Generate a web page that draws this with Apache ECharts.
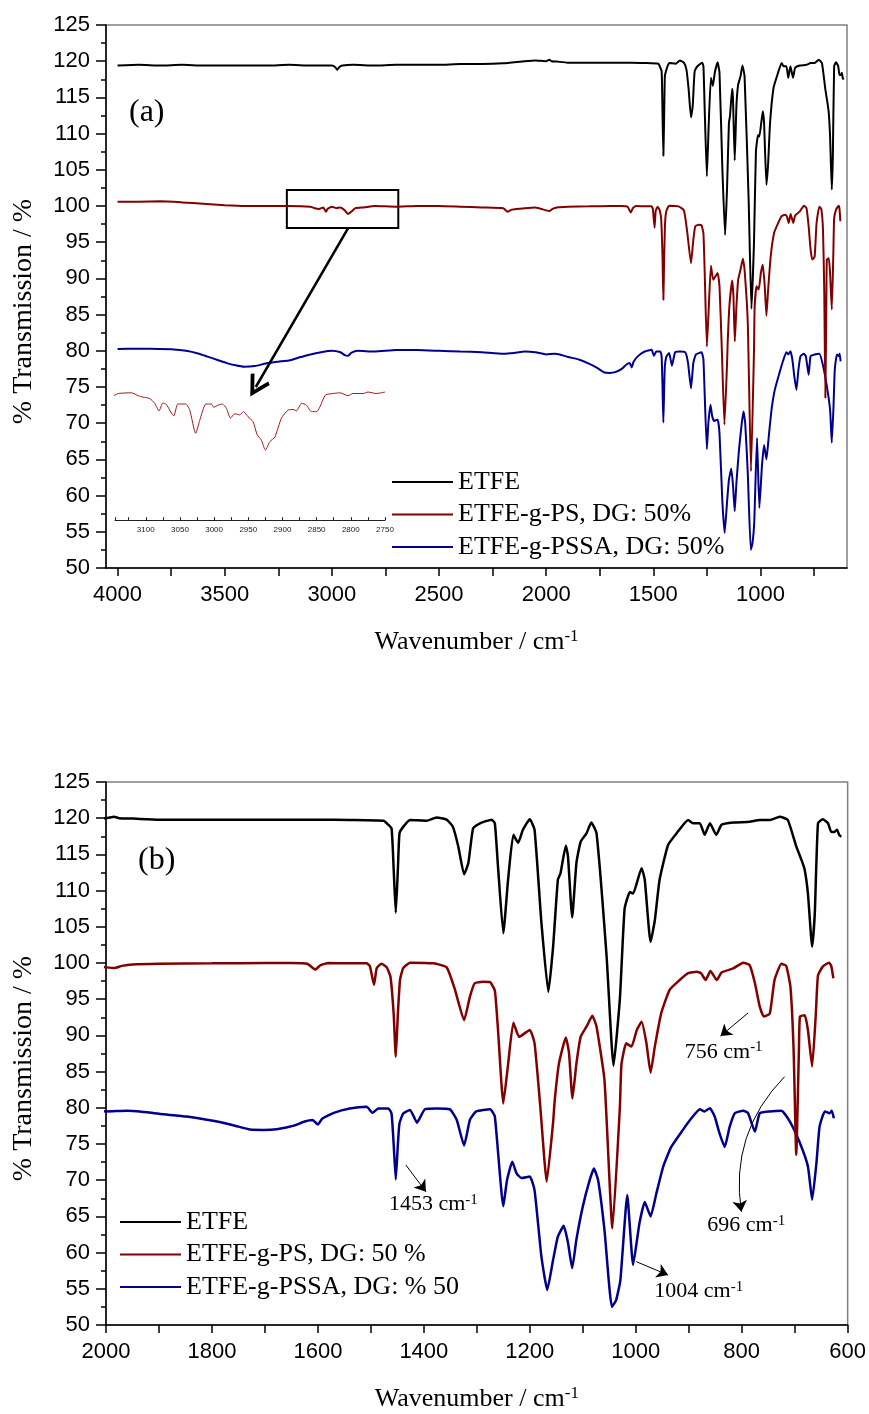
<!DOCTYPE html>
<html>
<head>
<meta charset="utf-8">
<script src="https://cdn.jsdelivr.net/npm/echarts@6/dist/echarts.min.js"></script>
<style>
  html, body { margin: 0; padding: 0; background: #fff; }
  #chart { width: 869px; height: 1414px; }
</style>
</head>
<body>
<div id="chart"></div>
<script>
// FTIR spectra: wavenumber (cm-1) and transmission (%) for each film
const etfeWn = [4000,3900,3800,3700,3600,3500,3400,3300,3200,3100,3000,2985,2975,2965,2950,2900,2800,2700,2600,2500,2400,2300,2200,2100,2050,2000,1985,1975,1950,1900,1800,1700,1600,1540,1476,1470,1461,1457,1453,1449,1446,1439,1426,1395,1376,1357,1345,1335,1324,1316,1307,1294,1272,1266,1260,1250,1241,1231,1222,1213,1200,1191,1178,1165,1156,1147,1142,1132,1128,1120,1112,1104,1093,1084,1074,1055,1042,1030,1021,1011,1005,989,983,972,964,955,939,923,901,892,879,870,860,848,838,816,785,766,747,728,713,697,687,681,675,667,662,656,647,637,631,625,620,616,612];
const etfeT  = [119.4,119.5,119.4,119.5,119.4,119.4,119.4,119.4,119.5,119.4,119.4,119.2,118.8,119.2,119.4,119.5,119.4,119.5,119.5,119.5,119.6,119.6,119.7,120.0,120.1,120.0,120.2,120.0,119.95,119.8,119.8,119.8,119.8,119.75,119.65,119.3,118.6,113.0,106.95,113.0,117.9,118.8,119.75,119.65,120.1,119.8,118.8,116.1,112.25,113.8,118.6,119.3,119.8,119.3,113.3,104.1,111.5,117.7,116.6,118.4,119.85,118.4,105.5,96.0,102.25,111.5,112.4,116.2,114.8,106.3,113.8,116.75,117.9,119.4,117.9,100.9,85.8,95.0,107.5,109.8,109.6,113.1,111.5,102.9,105.9,111.5,116.3,117.9,119.75,119.3,119.3,117.7,119.3,117.7,119.1,119.4,119.5,119.75,119.75,120.2,119.75,116.1,114.2,112.85,109.6,102.25,106.9,119.3,119.85,119.3,118.1,118.1,118.4,117.7,117.45];

const psWn = [4000,3900,3800,3700,3600,3500,3400,3300,3200,3100,3080,3060,3040,3027,3020,3000,2980,2960,2940,2925,2910,2890,2850,2800,2700,2600,2500,2400,2300,2200,2180,2160,2100,2050,2000,1985,1970,1950,1900,1800,1700,1650,1620,1605,1595,1580,1540,1508,1502,1494,1489,1480,1470,1463,1457,1453,1449,1445,1439,1426,1382,1357,1342,1324,1313,1304,1288,1275,1266,1260,1250,1241,1231,1220,1200,1191,1180,1168,1156,1153,1145,1132,1126,1119.5,1112,1104,1093,1082,1074,1059,1044,1030,1027,1018,1008,998,989,980,972,964,952,936,917,901,885,877,868,859,847,838,816,797,785,775,766,758,747,738,725,716,708,702,697,692,690,681,675,667,660,656,647,635,631,627];
const psT  = [100.6,100.6,100.65,100.5,100.3,100.1,100.0,100.0,100.0,99.9,99.7,99.6,99.8,99.2,99.6,99.9,99.7,99.8,99.4,98.9,99.2,99.7,99.8,100.0,99.9,100.0,100.0,99.9,99.8,99.7,99.2,99.5,99.7,99.8,99.4,99.3,99.6,99.8,99.9,99.95,100.0,100.0,99.9,99.1,99.7,100.0,99.95,99.95,99.6,97.0,99.3,99.9,99.4,98.1,93.0,87.05,93.0,97.65,99.3,100.05,99.95,99.4,96.5,92.1,95.35,97.2,97.4,97.35,96.2,90.75,80.6,86.0,91.75,89.8,90.75,88.9,80.0,69.8,78.0,81.0,86.1,89.7,87.6,81.3,86.1,89.8,91.2,92.7,91.2,83.8,63.35,80.0,86.0,88.9,88.45,90.75,91.9,89.0,84.85,88.45,93.05,96.3,97.65,98.6,98.8,98.6,97.65,98.9,97.65,98.7,99.25,100.05,99.7,97.2,94.0,92.6,93.0,97.65,99.9,99.6,96.7,88.0,73.5,88.0,92.6,92.8,90.75,85.7,93.05,98.3,99.5,100.05,99.6,97.9];

const pssaWn = [4000,3900,3850,3750,3680,3620,3580,3530,3490,3450,3410,3360,3300,3250,3195,3150,3100,3050,3000,2960,2940,2925,2910,2880,2800,2700,2600,2500,2400,2300,2200,2150,2100,2050,2000,1961,1936,1898,1848,1798,1760,1728,1703,1678,1647,1625,1610,1600,1592,1570,1540,1508,1497,1486,1467,1461,1457,1453,1449,1446,1439,1426,1413,1398,1376,1351,1338,1324,1313,1301,1275,1266,1250,1243,1233,1225,1216,1200,1191,1178,1167,1156,1147,1136,1128,1120,1112,1100,1087,1079,1071,1059,1045,1037,1029,1016,1005,993,983,972,961,948,933,911,895,879,870,860,851,842,832,823,813,797,788,775,766,747,725,709,691,675,667,659,653,643,634,630,626];
const pssaT  = [80.25,80.3,80.3,80.2,80.0,79.6,79.2,78.7,78.3,78.0,77.8,77.9,78.3,78.5,78.7,79.1,79.5,79.8,80.0,79.8,79.4,79.3,79.7,80.0,79.9,80.1,80.1,80.0,79.9,79.8,79.6,79.7,79.9,79.8,79.5,79.6,79.5,79.15,78.8,78.2,77.6,77.0,76.95,77.05,77.5,78.1,78.3,77.7,78.5,79.3,79.9,80.15,79.3,79.9,79.9,79.2,75.0,70.1,75.0,77.85,79.2,79.7,77.95,79.8,79.9,79.8,78.35,74.8,78.35,79.5,79.8,78.8,66.4,70.0,72.55,70.95,70.3,70.5,68.6,59.4,54.85,59.0,62.2,63.7,61.4,57.85,61.8,66.35,70.0,71.6,70.0,63.1,52.5,53.45,56.2,67.95,58.3,64.05,67.0,65.0,68.2,71.9,74.6,76.95,78.55,79.8,79.5,79.95,78.8,76.5,74.6,77.3,79.25,79.6,79.25,76.7,79.25,79.5,79.6,78.1,75.3,71.9,67.3,72.3,77.4,79.5,79.25,79.6,78.55];

// C-H stretching region of ETFE-g-PS, drawn enlarged in the inset
const insetWn = [3147,3140,3121,3111,3104,3094,3087,3080.5,3075,3070,3059,3053,3041.5,3035.6,3027,3021,3012,3004,3000.5,2994,2988,2982,2976,2970,2962.5,2957,2950.5,2943,2937,2931,2925,2918.5,2911,2901.5,2892,2884.5,2879.5,2872,2865,2857.6,2850,2845.5,2837,2826,2816,2804,2797,2782,2775,2763,2750];
const insetT  = [73.8,74.1,74.2,73.8,73.6,73.4,72.75,71.7,72.8,72.6,71.0,72.65,72.65,71.8,68.6,70.4,72.65,72.65,72.2,72.5,72.65,72.05,70.7,71.3,71.15,71.6,70.9,70.2,68.4,67.7,66.3,67.45,68.1,70.7,71.8,71.9,71.7,72.75,72.5,71.6,71.6,72.2,73.9,74.1,74.2,73.8,74.1,74.1,74.3,74.1,74.3];

// Axis ticks and labels
const yTicks = [50, 125, 5];
const topTickValues = [750,1000,1250,1500,1750,2000,2250,2500,2750,3000,3250,3500,3750,4000];
const topLabelValues = [1000,1500,2000,2500,3000,3500,4000];

// Legend entries
const namesTop = ['ETFE', 'ETFE-g-PS, DG: 50%', 'ETFE-g-PSSA, DG: 50%'];
const namesBottom = ['ETFE', 'ETFE-g-PS, DG: 50 %', 'ETFE-g-PSSA, DG: % 50'];

// Band assignments marked in the lower panel
const bandLabels = ['1453', '756', '696', '1004'];

const COLORS = ['#000000', '#820000', '#00008c'];
const SERIF = 'Liberation Serif';
const SANS = 'Liberation Sans';

const pairs = (wn, t) => wn.map((w, i) => [w, t[i]]);
const spectra = [pairs(etfeWn, etfeT), pairs(psWn, psT), pairs(pssaWn, pssaT)];

const plain = v => String(v);
const axisText = { fontFamily: SANS, fontSize: 22, color: '#000', formatter: plain };
const titleRich = {
  t: { fontFamily: SERIF, fontSize: 26, color: '#000', lineHeight: 28 },
  s: { fontFamily: SERIF, fontSize: 17, color: '#000', verticalAlign: 'top', lineHeight: 12 }
};
const blackLine = { color: '#000', width: 1.5 };

function yAxisFor(gridIndex) {
  return {
    type: 'value', gridIndex, min: yTicks[0], max: yTicks[1], interval: yTicks[2],
    axisLine: { show: true, onZero: false, lineStyle: blackLine },
    axisTick: { show: true, length: 10, lineStyle: blackLine },
    minorTick: { show: true, splitNumber: 2, length: 5, lineStyle: blackLine },
    splitLine: { show: false },
    axisLabel: Object.assign({ margin: 16 }, axisText),
    name: '% Transmission / %', nameLocation: 'middle', nameGap: 68,
    nameTextStyle: { fontFamily: SERIF, fontSize: 28, color: '#000', padding: [0, 30, 0, 0] }
  };
}

const openArrow = 'path://M5,0 L10,9 L8.6,10 L5,3.6 L1.4,10 L0,9 Z';

function annotationText(band, coord) {
  return {
    coord, symbolSize: 0,
    label: {
      show: true, position: 'inside', formatter: '{t|' + band + ' cm}{s|-1}',
      rich: {
        t: { fontFamily: SERIF, fontSize: 22, color: '#000', lineHeight: 24 },
        s: { fontFamily: SERIF, fontSize: 15, color: '#000', verticalAlign: 'top', lineHeight: 10 }
      }
    }
  };
}

const thinArrow = {
  silent: true, symbol: ['none', 'arrow'], symbolSize: 11,
  label: { show: false },
  lineStyle: { color: '#000', width: 1, type: 'solid' }
};

const series = [];
// upper panel, full range (blue first so red and black lie on top)
[2, 1, 0].forEach(k => {
  const s = {
    type: 'line', name: namesTop[k], xAxisIndex: 0, yAxisIndex: 0,
    data: spectra[k], showSymbol: false, symbol: 'none', animation: false, smooth: 0.15,
    lineStyle: { color: COLORS[k], width: 2 }, itemStyle: { color: COLORS[k] }
  };
  if (k === 1) {
    s.markArea = {
      silent: true, label: { show: false },
      itemStyle: { color: 'rgba(0,0,0,0)', borderColor: '#000', borderWidth: 2 },
      data: [[{ coord: [3210, 102.2] }, { coord: [2690, 96.96] }]]
    };
    s.markLine = {
      silent: true, symbol: ['none', openArrow], symbolSize: 22,
      label: { show: false },
      lineStyle: { color: '#000', width: 2.5, type: 'solid' },
      data: [[{ coord: [2924, 96.96] }, { coord: [3355, 75.0] }]]
    };
  }
  series.push(s);
});
// inset
series.push({
  type: 'line', name: 'inset', xAxisIndex: 2, yAxisIndex: 2,
  data: pairs(insetWn, insetT), showSymbol: false, symbol: 'none', animation: false, smooth: 0.2,
  lineStyle: { color: '#9e1b1b', width: 1 }
});
// lower panel, fingerprint region
[2, 1, 0].forEach(k => {
  const s = {
    type: 'line', name: namesBottom[k], xAxisIndex: 1, yAxisIndex: 1,
    data: spectra[k], showSymbol: false, symbol: 'none', animation: false, smooth: 0.15,
    lineStyle: { color: COLORS[k], width: 2.5 }, itemStyle: { color: COLORS[k] }
  };
  if (k === 2) {
    s.markLine = Object.assign({}, thinArrow, {
      data: [
        [{ coord: [1434, 72.1] }, { coord: [1396, 68.4] }],
        [{ coord: [788, 93.1] }, { coord: [840, 89.9] }],
        [{ coord: [999, 58.75] }, { coord: [939, 56.9] }]
      ]
    });
    s.markPoint = {
      silent: true,
      data: [
        annotationText(bandLabels[0], [1382, 66.7]),
        annotationText(bandLabels[1], [834, 87.7]),
        annotationText(bandLabels[2], [791.5, 63.8]),
        annotationText(bandLabels[3], [881, 54.6])
      ]
    };
  }
  series.push(s);
});
// curved pointer to the 696 cm-1 band
series.push({
  type: 'lines', coordinateSystem: 'cartesian2d', xAxisIndex: 1, yAxisIndex: 1,
  silent: true, animation: false, symbol: ['none', 'arrow'], symbolSize: 11,
  lineStyle: { color: '#000', width: 1, opacity: 1, curveness: -0.25 },
  data: [{ coords: [[719, 84.3], [800.6, 65.65]] }]
});

const legendText = { fontFamily: SERIF, fontSize: 26, color: '#000', lineHeight: 26 };

const option = {
  backgroundColor: '#fff',
  animation: false,
  title: [
    { text: '(a)', left: 129, top: 97, padding: 0,
      textStyle: { fontFamily: SERIF, fontSize: 32, fontWeight: 'normal', color: '#000' } },
    { text: '(b)', left: 138, top: 845, padding: 0,
      textStyle: { fontFamily: SERIF, fontSize: 32, fontWeight: 'normal', color: '#000' } }
  ],
  legend: [
    { orient: 'vertical', left: 392, top: 469, padding: 0, itemWidth: 61, itemHeight: 2,
      itemGap: 6.5, icon: 'rect', selectedMode: false, data: namesTop, textStyle: legendText },
    { orient: 'vertical', left: 120, top: 1209, padding: 0, itemWidth: 61, itemHeight: 2,
      itemGap: 6.5, icon: 'rect', selectedMode: false, data: namesBottom, textStyle: legendText }
  ],
  grid: [
    { left: 106, top: 25, width: 741, height: 543, show: true, borderColor: '#808080', borderWidth: 1.5 },
    { left: 106, top: 782, width: 742, height: 543, show: true, borderColor: '#808080', borderWidth: 1.5 },
    { left: 115, top: 387, width: 270, height: 133.2 }
  ],
  xAxis: [
    {
      type: 'value', gridIndex: 0, inverse: true, min: 596, max: 4054,
      axisLine: { onZero: false, lineStyle: blackLine },
      axisTick: { show: true, length: 8, customValues: topTickValues, lineStyle: blackLine },
      axisLabel: Object.assign({ margin: 16, customValues: topLabelValues }, axisText),
      splitLine: { show: false },
      name: '{t|Wavenumber / cm}{s|-1}', nameLocation: 'middle', nameGap: 60,
      nameTextStyle: { rich: titleRich }
    },
    {
      type: 'value', gridIndex: 1, inverse: true, min: 600, max: 2000, interval: 200,
      axisLine: { onZero: false, lineStyle: blackLine },
      axisTick: { show: true, length: 8, lineStyle: blackLine },
      minorTick: { show: true, splitNumber: 2, length: 8, lineStyle: blackLine },
      axisLabel: Object.assign({ margin: 16 }, axisText),
      splitLine: { show: false },
      name: '{t|Wavenumber / cm}{s|-1}', nameLocation: 'middle', nameGap: 60,
      nameTextStyle: { rich: titleRich }
    },
    {
      type: 'value', gridIndex: 2, inverse: true, min: 2750, max: 3145, interval: 25,
      axisLine: { onZero: false, lineStyle: { color: '#222', width: 1 } },
      axisTick: { show: true, inside: true, length: 3, lineStyle: { color: '#222', width: 1 } },
      axisLabel: { fontFamily: SANS, fontSize: 8, color: '#222', margin: 6,
        formatter: v => (v % 50 === 0 ? String(v) : '') },
      splitLine: { show: false }
    }
  ],
  yAxis: [
    yAxisFor(0),
    yAxisFor(1),
    { type: 'value', gridIndex: 2, min: 56.6, max: 75, show: false }
  ],
  series
};

const chart = echarts.init(document.getElementById('chart'), null, { renderer: 'canvas' });
chart.setOption(option);
</script>
</body>
</html>
